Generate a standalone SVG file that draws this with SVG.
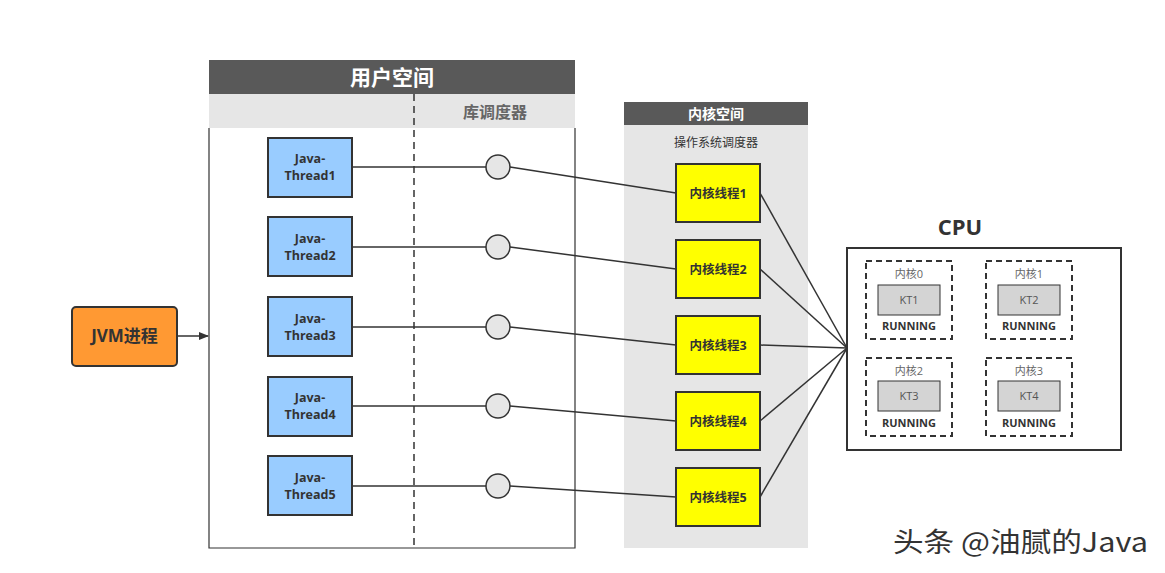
<svg xmlns="http://www.w3.org/2000/svg" width="1165" height="573" viewBox="0 0 1165 573">
<style>
text{font-family:"Open Sans","Noto Sans CJK SC",sans-serif;fill:#333}
.hdr{fill:#595959}
.band{fill:#e6e6e6}
.jt{fill:#99ccff;stroke:#333;stroke-width:2}
.kt{fill:#ffff00;stroke:#333;stroke-width:2}
.circ{fill:#e6e6e6;stroke:#333;stroke-width:1.5}
.core{fill:none;stroke:#333;stroke-width:2;stroke-dasharray:6,4}
.ktb{fill:#d4d4d4;stroke:#333;stroke-width:1}
.b{font-weight:bold}
.conn{stroke:#333;stroke-width:1.5;fill:none}
.jtt{font-weight:bold;font-size:12.5px}
</style>
<defs>
<marker id="arr" markerWidth="10" markerHeight="10" refX="9" refY="5" orient="auto" markerUnits="userSpaceOnUse">
<path d="M0,1 L10,5 L0,9 Z" fill="#333"/>
</marker>
</defs>
<rect width="1165" height="573" fill="#fff"/>

<g id="user-space">
<rect x="209" y="60" width="366" height="34" class="hdr"/>
<text x="392" y="85" text-anchor="middle" class="b" style="fill:#fff;font-size:21px">用户空间</text>
<rect x="209" y="94" width="366" height="34" class="band"/>
<text x="495" y="118" text-anchor="middle" class="b" style="fill:#666;font-size:16px">库调度器</text>
<path d="M209,128 V548 H575 V128" fill="none" stroke="#333" stroke-width="1.2"/>
<line x1="414" y1="94" x2="414" y2="548" stroke="#333" stroke-width="1.5" stroke-dasharray="7,5"/>
</g>

<g id="kernel-space">
<rect x="624" y="102" width="184" height="23" class="hdr"/>
<text x="716" y="119" text-anchor="middle" class="b" style="fill:#fff;font-size:14px">内核空间</text>
<rect x="624" y="125" width="184" height="423" class="band"/>
<text x="716" y="147" text-anchor="middle" style="font-size:12px">操作系统调度器</text>
</g>

<g id="connectors">
<line x1="178" y1="336" x2="208" y2="336" class="conn" marker-end="url(#arr)"/>
<line x1="352" y1="167" x2="486" y2="167" class="conn"/>
<line x1="352" y1="247" x2="486" y2="247" class="conn"/>
<line x1="352" y1="327" x2="486" y2="327" class="conn"/>
<line x1="352" y1="406" x2="486" y2="406" class="conn"/>
<line x1="352" y1="486" x2="486" y2="486" class="conn"/>
<line x1="510" y1="167" x2="676" y2="193" class="conn"/>
<line x1="510" y1="247" x2="676" y2="269" class="conn"/>
<line x1="510" y1="327" x2="676" y2="345" class="conn"/>
<line x1="510" y1="406" x2="676" y2="421" class="conn"/>
<line x1="510" y1="486" x2="676" y2="497" class="conn"/>
<line x1="760" y1="193" x2="847" y2="348" class="conn"/>
<line x1="760" y1="269" x2="847" y2="348" class="conn"/>
<line x1="760" y1="345" x2="847" y2="348" class="conn"/>
<line x1="760" y1="421" x2="847" y2="348" class="conn"/>
<line x1="760" y1="497" x2="847" y2="348" class="conn"/>
</g>

<g id="jvm">
<rect x="72" y="307" width="105" height="59" rx="4" fill="#ff9933" stroke="#333" stroke-width="2"/>
<text x="124.5" y="342" text-anchor="middle" class="b" style="font-size:17px">JVM进程</text>
</g>

<g id="java-thread1"><rect x="268" y="138" width="84" height="59" class="jt"/>
<text x="310" y="163" text-anchor="middle" class="jtt">Java-</text><text x="310" y="180" text-anchor="middle" class="jtt">Thread1</text></g>
<g id="java-thread2"><rect x="268" y="217" width="84" height="59" class="jt"/>
<text x="310" y="243" text-anchor="middle" class="jtt">Java-</text><text x="310" y="260" text-anchor="middle" class="jtt">Thread2</text></g>
<g id="java-thread3"><rect x="268" y="297" width="84" height="59" class="jt"/>
<text x="310" y="323" text-anchor="middle" class="jtt">Java-</text><text x="310" y="340" text-anchor="middle" class="jtt">Thread3</text></g>
<g id="java-thread4"><rect x="268" y="377" width="84" height="59" class="jt"/>
<text x="310" y="402" text-anchor="middle" class="jtt">Java-</text><text x="310" y="419" text-anchor="middle" class="jtt">Thread4</text></g>
<g id="java-thread5"><rect x="268" y="456" width="84" height="59" class="jt"/>
<text x="310" y="482" text-anchor="middle" class="jtt">Java-</text><text x="310" y="499" text-anchor="middle" class="jtt">Thread5</text></g>

<g id="sched1"><circle cx="498" cy="167" r="12" class="circ"/></g>
<g id="sched2"><circle cx="498" cy="247" r="12" class="circ"/></g>
<g id="sched3"><circle cx="498" cy="327" r="12" class="circ"/></g>
<g id="sched4"><circle cx="498" cy="406" r="12" class="circ"/></g>
<g id="sched5"><circle cx="498" cy="486" r="12" class="circ"/></g>

<g id="kthread1"><rect x="676" y="164" width="84" height="58" class="kt"/><text x="718" y="198" text-anchor="middle" class="b" style="font-size:12.5px">内核线程1</text></g>
<g id="kthread2"><rect x="676" y="240" width="84" height="58" class="kt"/><text x="718" y="274" text-anchor="middle" class="b" style="font-size:12.5px">内核线程2</text></g>
<g id="kthread3"><rect x="676" y="316" width="84" height="58" class="kt"/><text x="718" y="350" text-anchor="middle" class="b" style="font-size:12.5px">内核线程3</text></g>
<g id="kthread4"><rect x="676" y="392" width="84" height="58" class="kt"/><text x="718" y="426" text-anchor="middle" class="b" style="font-size:12.5px">内核线程4</text></g>
<g id="kthread5"><rect x="676" y="468" width="84" height="58" class="kt"/><text x="718" y="502" text-anchor="middle" class="b" style="font-size:12.5px">内核线程5</text></g>

<g id="cpu">
<text x="960" y="235" text-anchor="middle" class="b" style="font-size:22px">CPU</text>
<rect x="847" y="248" width="274" height="202" fill="#fff" stroke="#333" stroke-width="2"/>
<g id="core0"><rect x="866" y="261" width="86" height="78" class="core"/>
<text x="909" y="278" text-anchor="middle" style="font-size:11px;fill:#666">内核0</text>
<rect x="878" y="285" width="62" height="30" class="ktb"/><text x="909" y="304" text-anchor="middle" style="font-size:11px;fill:#555">KT1</text>
<text x="909" y="330" text-anchor="middle" class="b" style="font-size:11px">RUNNING</text></g>
<g id="core1"><rect x="986" y="261" width="86" height="78" class="core"/>
<text x="1029" y="278" text-anchor="middle" style="font-size:11px;fill:#666">内核1</text>
<rect x="998" y="285" width="62" height="30" class="ktb"/><text x="1029" y="304" text-anchor="middle" style="font-size:11px;fill:#555">KT2</text>
<text x="1029" y="330" text-anchor="middle" class="b" style="font-size:11px">RUNNING</text></g>
<g id="core2"><rect x="866" y="358" width="86" height="78" class="core"/>
<text x="909" y="375" text-anchor="middle" style="font-size:11px;fill:#666">内核2</text>
<rect x="878" y="381" width="62" height="30" class="ktb"/><text x="909" y="400" text-anchor="middle" style="font-size:11px;fill:#555">KT3</text>
<text x="909" y="427" text-anchor="middle" class="b" style="font-size:11px">RUNNING</text></g>
<g id="core3"><rect x="986" y="358" width="86" height="78" class="core"/>
<text x="1029" y="375" text-anchor="middle" style="font-size:11px;fill:#666">内核3</text>
<rect x="998" y="381" width="62" height="30" class="ktb"/><text x="1029" y="400" text-anchor="middle" style="font-size:11px;fill:#555">KT4</text>
<text x="1029" y="427" text-anchor="middle" class="b" style="font-size:11px">RUNNING</text></g>
</g>

<text x="893" y="552" textLength="255" lengthAdjust="spacingAndGlyphs" style="font-size:27px;fill:#333;font-family:'Noto Sans CJK SC',sans-serif">头条 @油腻的Java</text>
</svg>
